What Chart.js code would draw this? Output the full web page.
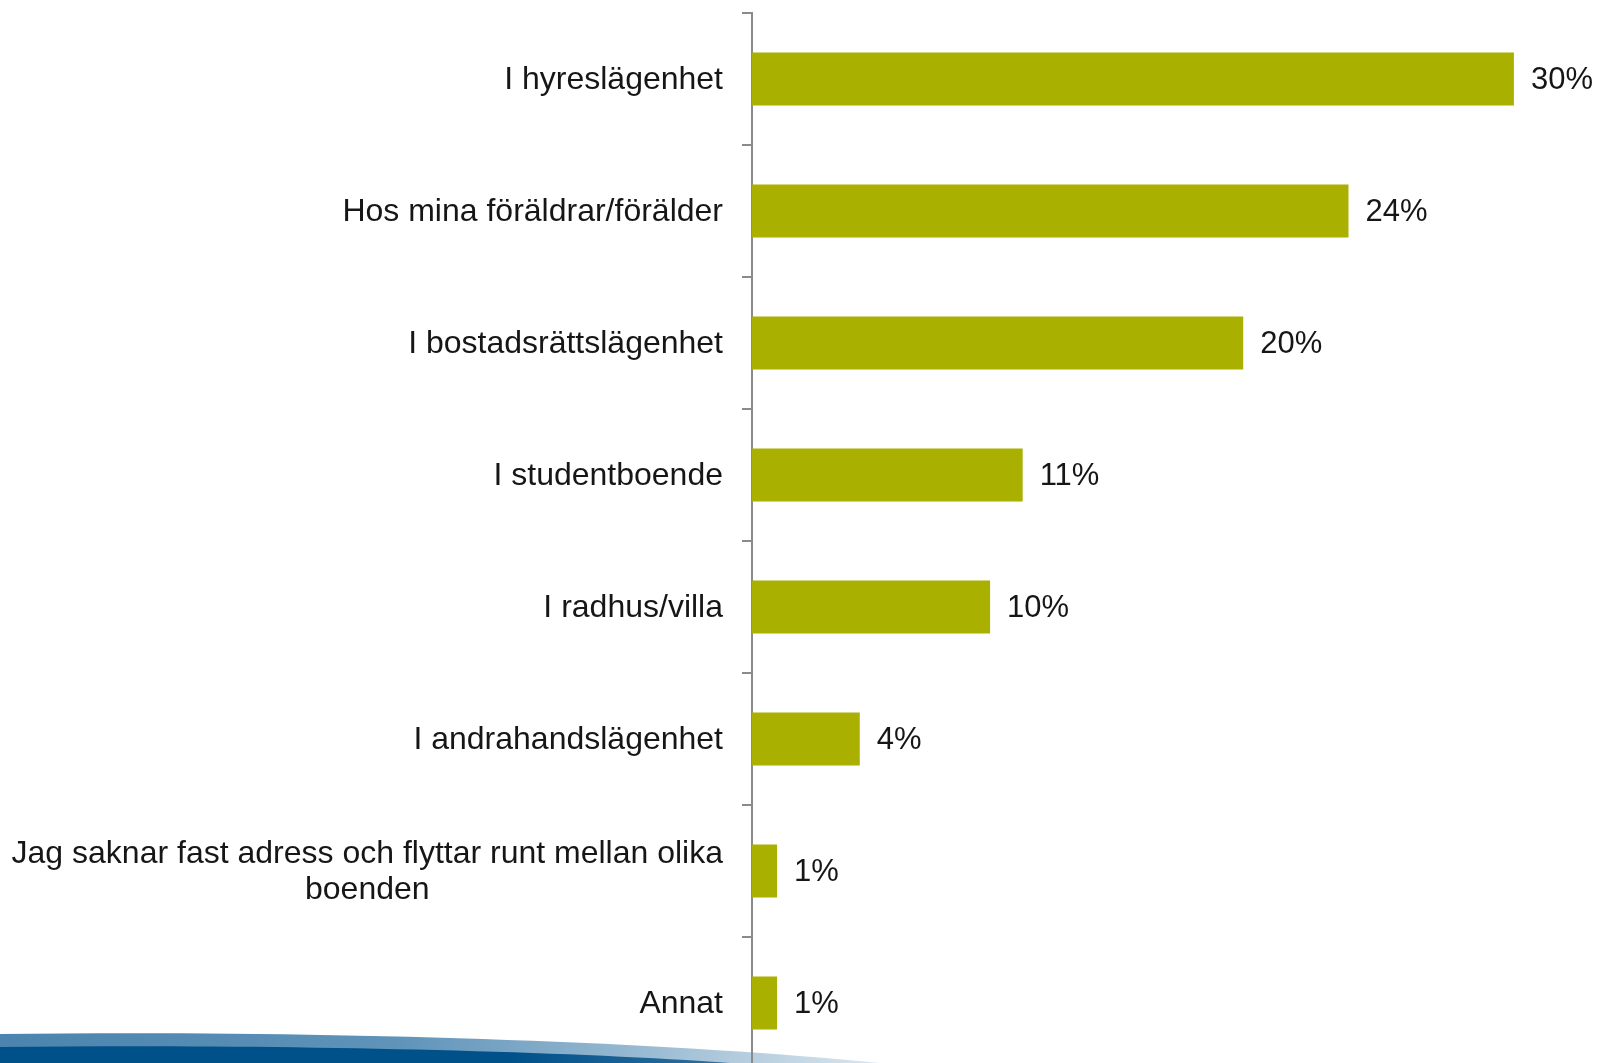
<!DOCTYPE html>
<html>
<head>
<meta charset="utf-8">
<script src="https://cdn.jsdelivr.net/npm/chart.js@4"></script>
<style>
  html, body { margin: 0; padding: 0; background: #ffffff; overflow: hidden; width: 1598px; height: 1063px; }
  #wrap { position: absolute; left: 0; top: 0; width: 1598px; height: 1080px; }
</style>
</head>
<body>
<div id="wrap"><canvas id="c" width="1598" height="1080"></canvas></div>
<script>
const categories = [
  ["I hyreslägenhet"],
  ["Hos mina föräldrar/förälder"],
  ["I bostadsrättslägenhet"],
  ["I studentboende"],
  ["I radhus/villa"],
  ["I andrahandslägenhet"],
  ["Jag saknar fast adress och flyttar runt mellan olika", "boenden"],
  ["Annat"]
];
const values = [30.4, 23.8, 19.6, 10.8, 9.5, 4.3, 1.0, 1.0];
const valueLabels = ["30%", "24%", "20%", "11%", "10%", "4%", "1%", "1%"];

const FONT = "'Liberation Sans', Arial, sans-serif";
const TEXT = "#161616";

const bandPlugin = {
  id: 'band',
  beforeDraw(chart) {
    const ctx = chart.ctx;
    const H = 1063;
    ctx.save();
    let g = ctx.createLinearGradient(0, 0, 880, 0);
    g.addColorStop(0, '#4b84ae');
    g.addColorStop(0.45, '#5f93b9');
    g.addColorStop(0.75, '#9dbdd4');
    g.addColorStop(1, '#dbe6ef');
    ctx.fillStyle = g;
    ctx.beginPath();
    ctx.moveTo(0, 1034);
    ctx.bezierCurveTo(300, 1030, 650, 1040, 880, H);
    ctx.lineTo(0, H);
    ctx.closePath();
    ctx.fill();
    g = ctx.createLinearGradient(0, 0, 730, 0);
    g.addColorStop(0, '#00518a');
    g.addColorStop(0.7, '#00518a');
    g.addColorStop(1, '#2f6f9e');
    ctx.fillStyle = g;
    ctx.beginPath();
    ctx.moveTo(0, 1047);
    ctx.bezierCurveTo(250, 1044, 550, 1050, 730, H);
    ctx.lineTo(0, H);
    ctx.closePath();
    ctx.fill();
    ctx.restore();
  }
};

const labelPlugin = {
  id: 'labels',
  afterDraw(chart) {
    const ctx = chart.ctx;
    const y = chart.scales.y;
    ctx.save();
    ctx.font = "32px " + FONT;
    ctx.fillStyle = TEXT;
    ctx.textAlign = 'center';
    ctx.textBaseline = 'middle';
    const rightX = y.right - 29;
    const lh = 36;
    categories.forEach((lines, i) => {
      const cy = y.getPixelForTick(i);
      const w = Math.max(...lines.map(l => ctx.measureText(l).width));
      const cx = rightX - w / 2;
      const y0 = cy - (lines.length - 1) * lh / 2;
      lines.forEach((l, k) => ctx.fillText(l, cx, y0 + k * lh + 1));
    });
    ctx.font = "31px " + FONT;
    ctx.textAlign = 'left';
    const meta = chart.getDatasetMeta(0);
    meta.data.forEach((bar, i) => {
      ctx.fillText(valueLabels[i], bar.x + 17, bar.y + 1);
    });
    ctx.restore();
  }
};

new Chart(document.getElementById('c'), {
  type: 'bar',
  data: {
    labels: categories,
    datasets: [{
      data: values,
      backgroundColor: '#a9b000',
      borderWidth: 0,
      categoryPercentage: 1.0,
      barPercentage: 0.4
    }]
  },
  options: {
    indexAxis: 'y',
    responsive: false,
    animation: false,
    events: [],
    layout: { padding: { left: 0, right: 44, top: 13, bottom: 11 } },
    plugins: { legend: { display: false }, tooltip: { enabled: false } },
    scales: {
      x: { display: false, min: 0, max: 32 },
      y: {
        position: 'left',
        ticks: { display: false },
        grid: {
          drawOnChartArea: false,
          drawTicks: true,
          tickLength: 10,
          color: '#8a8a8a',
          lineWidth: 2,
          offset: true
        },
        border: { display: true, color: '#8a8a8a', width: 2 },
        afterFit(scale) { scale.width = 752; }
      }
    }
  },
  plugins: [bandPlugin, labelPlugin]
});
</script>
</body>
</html>
